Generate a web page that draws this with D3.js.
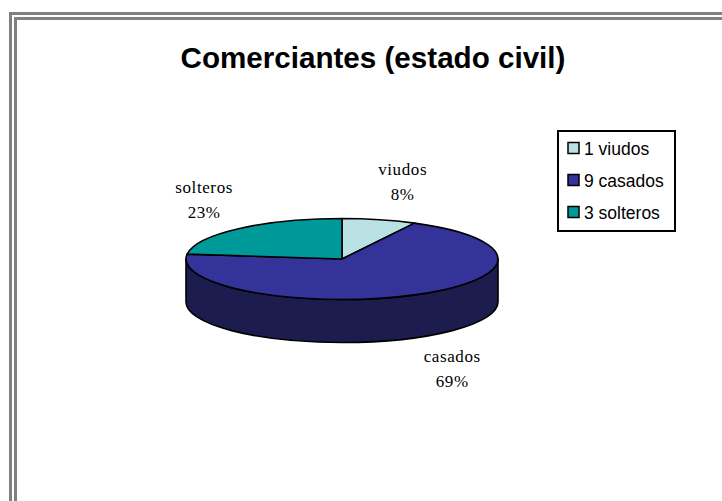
<!DOCTYPE html>
<html>
<head>
<meta charset="utf-8">
<script src="https://cdn.jsdelivr.net/npm/d3@7"></script>
<style>
  html, body { margin: 0; padding: 0; background: #fff; }
  svg { display: block; }
</style>
</head>
<body>
<svg id="chart" width="722" height="501"></svg>
<script>
// Marital status of merchants
const categories = ["viudos", "casados", "solteros"];
const counts = [1, 9, 3];
const colors = ["#BAE2E4", "#333399", "#009999"];
const sideColors = ["#7FA3A5", "#1C1C4E", "#006262"];
const title = "Comerciantes (estado civil)";

const svg = d3.select("#chart");

// double grey frame
svg.append("rect").attr("x", 10.5).attr("y", 13.5).attr("width", 900).attr("height", 700)
  .attr("fill", "none").attr("stroke", "#808080").attr("stroke-width", 3);
svg.append("rect").attr("x", 15.5).attr("y", 18.5).attr("width", 900).attr("height", 700)
  .attr("fill", "none").attr("stroke", "#808080").attr("stroke-width", 3);

svg.append("text")
  .attr("x", 373).attr("y", 68)
  .attr("text-anchor", "middle")
  .attr("font-family", "Liberation Sans, Arial, sans-serif")
  .attr("font-weight", "bold")
  .attr("font-size", 29.6)
  .text(title);

// 3D pie geometry
const cx = 342, cy = 259, rx = 156, ry = 40.5, depth = 43;
const pt = (a, dy) => [cx + rx * Math.sin(a), cy - ry * Math.cos(a) + dy];
const fmt = p => p[0].toFixed(2) + "," + p[1].toFixed(2);

const total = d3.sum(counts);
const pie = d3.pie().sort(null).startAngle(0).endAngle(2 * Math.PI);
const arcs = pie(counts);

const g = svg.append("g");

// front walls (visible between 90° and 270°)
const FRONT0 = Math.PI / 2, FRONT1 = 3 * Math.PI / 2;
arcs.forEach((d, i) => {
  const a0 = Math.max(d.startAngle, FRONT0);
  const a1 = Math.min(d.endAngle, FRONT1);
  if (a1 <= a0) return;
  const large = (a1 - a0) > Math.PI ? 1 : 0;
  const path = `M${fmt(pt(a0, 0))} A${rx},${ry} 0 ${large} 1 ${fmt(pt(a1, 0))}` +
    ` L${fmt(pt(a1, depth))} A${rx},${ry} 0 ${large} 0 ${fmt(pt(a0, depth))} Z`;
  g.append("path").attr("d", path)
    .attr("fill", sideColors[i]).attr("stroke", "#000").attr("stroke-width", 1.6)
    .attr("stroke-linejoin", "round");
});

// top faces
arcs.forEach((d, i) => {
  const large = (d.endAngle - d.startAngle) > Math.PI ? 1 : 0;
  const path = `M${cx},${cy} L${fmt(pt(d.startAngle, 0))} A${rx},${ry} 0 ${large} 1 ${fmt(pt(d.endAngle, 0))} Z`;
  g.append("path").attr("d", path)
    .attr("fill", colors[i]).attr("stroke", "#000").attr("stroke-width", 1.6)
    .attr("stroke-linejoin", "round");
});

// outside labels: name and percentage
const lrx = 220, lryTop = 80, lryBottom = 75;
arcs.forEach((d, i) => {
  const mid = (d.startAngle + d.endAngle) / 2;
  const c = Math.cos(mid);
  const x = cx + 8 + lrx * Math.sin(mid);
  const y = c >= 0 ? cy - lryTop * c : cy - lryBottom * c + depth;
  const pct = Math.round(counts[i] / total * 100) + "%";
  const t = svg.append("text")
    .attr("text-anchor", "middle")
    .attr("font-family", "Liberation Serif, 'Times New Roman', serif")
    .attr("font-size", 17)
    .attr("letter-spacing", 0.6)
    .attr("fill", "#000");
  t.append("tspan").attr("x", x).attr("y", y - 6).text(categories[i]);
  t.append("tspan").attr("x", x).attr("y", y + 19).text(pct);
});

// legend
const lg = svg.append("g");
lg.append("rect").attr("x", 558).attr("y", 131).attr("width", 117).attr("height", 100)
  .attr("fill", "#fff").attr("stroke", "#000").attr("stroke-width", 2);
const rowY = d3.scalePoint().domain(categories).range([148, 212]);
categories.forEach((c, i) => {
  const y = rowY(c);
  lg.append("rect").attr("x", 568).attr("y", y - 5.5).attr("width", 11).attr("height", 11)
    .attr("fill", colors[i]).attr("stroke", "#000").attr("stroke-width", 1.5);
  lg.append("text").attr("x", 584).attr("y", y + 6.5)
    .attr("font-family", "Liberation Sans, Arial, sans-serif")
    .attr("font-size", 17.5)
    .text(counts[i] + " " + c);
});
</script>
</body>
</html>
